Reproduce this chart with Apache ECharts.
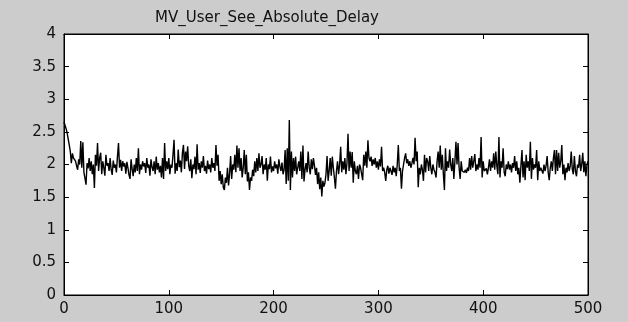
<!DOCTYPE html>
<html>
<head>
<meta charset="utf-8">
<script src="https://cdn.jsdelivr.net/npm/echarts@6/dist/echarts.min.js"></script>
<style>
html,body{margin:0;padding:0;background:#cccccc;}
#chart{width:628px;height:322px;}
</style>
</head>
<body>
<div id="chart"></div>
<script>
const chartTitle = "MV_User_See_Absolute_Delay";
const xTicks = [0, 100, 200, 300, 400, 500];
const yTicks = [0, 0.5, 1, 1.5, 2, 2.5, 3, 3.5, 4];
// delay values for sample index 0..500
const delay = [
2.65,2.66,2.55,2.48,2.5,2.3,2.2,2.02,2.17,2.1,
2.12,2.05,1.98,1.92,2.08,2.0,2.36,1.95,2.34,1.88,
1.79,1.69,2.02,1.94,2.1,1.9,2.05,1.85,2.0,1.64,
2.15,1.98,2.33,1.9,2.1,2.18,1.85,2.05,1.95,1.83,
2.15,1.98,2.02,1.9,2.1,1.92,1.84,2.06,1.95,2.0,
1.88,2.12,2.33,1.95,2.07,1.9,2.05,1.97,2.02,1.86,
2.04,1.95,1.84,1.78,2.08,1.93,1.82,2.0,1.88,2.1,
1.9,2.25,1.85,2.0,1.92,2.05,1.97,2.02,1.87,2.1,
1.95,2.0,1.83,2.08,1.96,1.9,2.05,1.85,2.12,1.92,
2.02,1.88,1.98,1.8,2.1,1.78,2.33,1.9,2.05,1.93,
2.1,1.85,2.0,1.95,2.15,2.38,1.86,2.02,1.9,2.23,
1.96,2.06,1.88,2.18,2.3,1.93,2.2,2.05,2.28,1.98,
1.9,2.08,1.79,2.0,1.93,2.12,1.85,2.31,1.92,2.02,
1.87,2.05,1.95,2.13,1.9,1.98,1.86,2.06,1.93,2.0,
1.88,2.1,1.95,2.02,1.9,2.3,1.98,2.15,1.75,1.9,
1.7,1.85,1.65,1.61,1.8,1.72,1.95,1.68,1.86,2.13,
1.78,2.0,1.92,2.15,1.88,2.29,1.95,2.25,1.9,2.1,
1.8,1.95,2.22,1.85,2.15,1.74,1.88,1.61,1.8,1.75,
1.92,1.82,2.05,1.88,2.1,1.9,2.17,1.95,2.0,2.13,
1.85,2.0,1.92,2.1,1.75,2.0,1.93,2.12,1.88,1.97,
1.9,2.05,1.94,2.0,1.86,2.08,1.97,1.9,2.03,1.85,
1.92,2.22,1.7,2.25,1.75,2.68,1.61,2.2,1.8,2.1,
1.9,2.12,1.85,1.95,2.05,1.9,2.2,1.78,2.29,1.74,
1.92,2.02,1.88,2.2,1.95,1.85,2.08,1.93,2.1,1.98,
1.84,1.95,1.7,1.88,1.62,1.8,1.51,1.75,1.66,1.72,
1.85,2.13,1.75,1.9,2.1,1.83,2.12,1.95,1.8,1.63,
1.9,2.05,1.85,2.0,2.27,1.88,2.05,1.92,2.1,1.85,
2.02,2.47,1.9,2.2,1.95,2.19,1.72,2.05,1.9,1.85,
1.98,1.78,2.0,1.95,1.92,1.76,2.15,1.98,2.2,1.95,
2.37,2.1,2.05,2.12,1.98,2.08,2.0,2.1,1.95,2.05,
1.92,2.08,1.97,2.27,1.9,1.95,1.88,1.75,1.92,1.98,
1.86,1.95,1.9,1.84,1.98,1.88,1.95,1.82,2.0,2.3,
1.9,1.95,1.63,1.9,2.0,2.1,2.17,2.02,2.08,1.98,
2.05,1.95,2.02,2.1,2.0,2.41,2.05,2.2,1.65,1.95,
1.85,2.0,1.92,1.75,2.15,1.88,2.1,2.05,1.9,2.13,
1.95,1.85,2.0,1.92,1.88,1.8,2.05,2.2,1.95,2.29,
1.92,2.15,1.85,1.61,2.25,1.9,2.05,1.95,2.23,2.0,
1.9,2.1,1.78,2.05,2.35,2.0,2.33,1.95,1.78,2.05,
1.9,1.93,1.88,1.92,1.87,1.95,1.9,2.1,1.92,2.13,
1.95,2.05,2.16,1.9,2.0,1.92,2.1,1.95,2.42,1.8,
2.05,1.9,1.88,1.94,1.85,1.95,2.08,1.9,2.05,1.95,
2.17,1.92,2.2,1.98,1.85,2.42,1.8,2.05,1.95,2.25,
1.88,1.82,2.0,1.93,2.05,1.92,2.0,1.88,2.02,1.95,
2.13,1.9,2.05,1.85,1.95,1.72,1.98,2.22,1.8,2.05,
1.76,2.15,1.95,2.05,1.9,2.35,1.78,2.1,1.92,2.0,
1.95,2.22,1.76,2.05,1.9,1.95,1.92,1.86,2.0,1.9,
1.98,2.13,1.88,1.76,1.95,2.05,1.9,2.1,2.22,1.85,
2.22,1.9,2.18,1.95,2.05,2.3,1.85,2.0,1.76,1.95,
1.88,2.02,1.9,1.97,2.2,1.93,1.85,2.13,1.9,1.82,
2.0,1.95,2.15,1.9,2.0,2.18,1.88,2.05,1.82,2.0,
2.05
];

const FONT = "DejaVu Sans";
const chart = echarts.init(document.getElementById('chart'), null, {renderer: 'canvas'});
const xMin = xTicks[0], xMax = xTicks[xTicks.length - 1], xStep = xTicks[1] - xTicks[0];
const yMin = yTicks[0], yMax = yTicks[yTicks.length - 1], yStep = yTicks[1] - yTicks[0];

const baseTick = {show: true, inside: true, length: 5, lineStyle: {color: '#000', width: 1}};
const baseLine = {show: true, onZero: false, lineStyle: {color: '#000', width: 1}};

chart.setOption({
  animation: false,
  backgroundColor: '#cccccc',
  title: {
    text: chartTitle,
    left: 150,
    top: 6,
    textStyle: {fontFamily: FONT, fontSize: 15, fontWeight: 'normal', color: '#111'}
  },
  grid: {left: 64, right: 40, top: 34, bottom: 27, show: true, backgroundColor: '#ffffff', borderColor: '#000', borderWidth: 1},
  xAxis: [
    {type: 'value', min: xMin, max: xMax, interval: xStep, position: 'bottom',
     axisLine: baseLine, axisTick: baseTick, splitLine: {show: false},
     axisLabel: {fontFamily: FONT, fontSize: 15, color: '#111', margin: 7}},
    {type: 'value', min: xMin, max: xMax, interval: xStep, position: 'top',
     axisLine: baseLine, axisTick: baseTick, splitLine: {show: false},
     axisLabel: {show: false}}
  ],
  yAxis: [
    {type: 'value', min: yMin, max: yMax, interval: yStep, position: 'left',
     axisLine: baseLine, axisTick: baseTick, splitLine: {show: false},
     axisLabel: {fontFamily: FONT, fontSize: 15, color: '#111', margin: 8}},
    {type: 'value', min: yMin, max: yMax, interval: yStep, position: 'right',
     axisLine: baseLine, axisTick: baseTick, splitLine: {show: false},
     axisLabel: {show: false}}
  ],
  series: [{
    type: 'line',
    xAxisIndex: 0, yAxisIndex: 0,
    data: delay.map((v, i) => [i, v]),
    showSymbol: false,
    symbol: 'none',
    lineStyle: {color: '#000', width: 1.4},
    silent: true
  }]
});
</script>
</body>
</html>
